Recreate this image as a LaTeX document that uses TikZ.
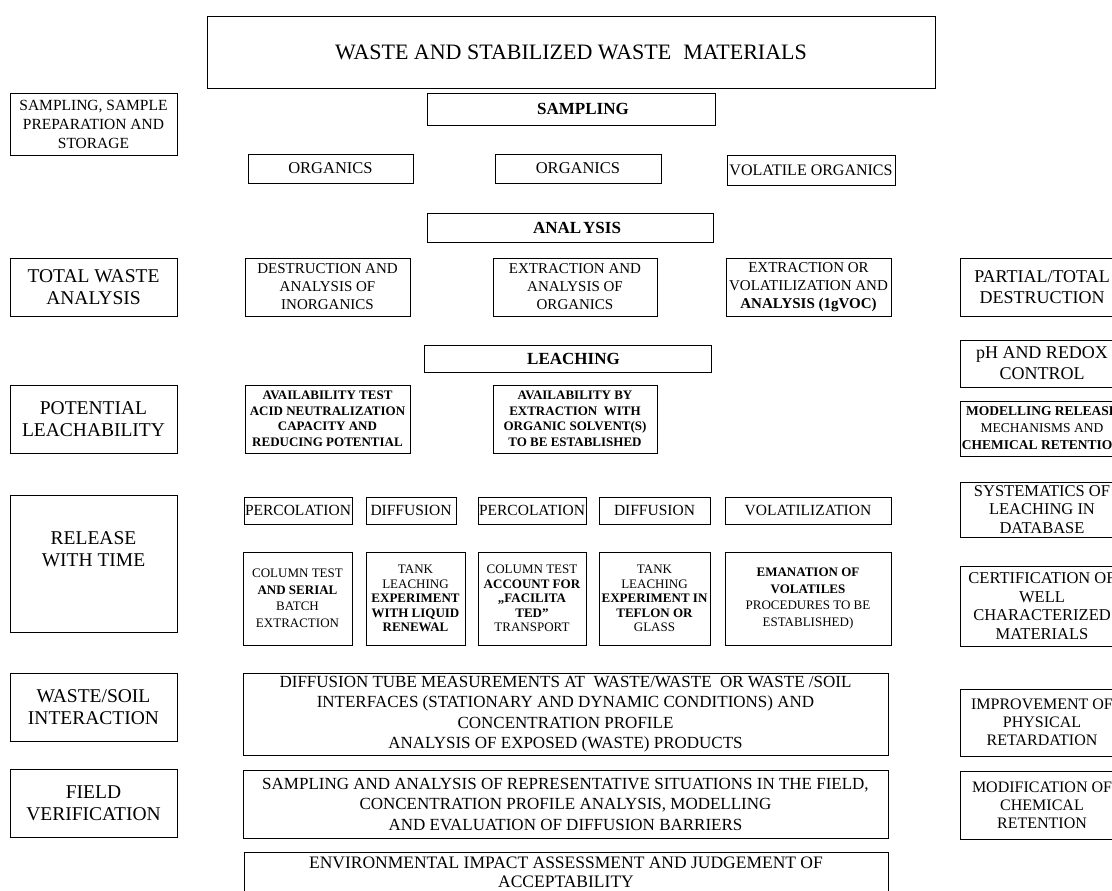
\documentclass[tikz,border=0pt]{standalone}
\usepackage{fontspec}
\setmainfont{Liberation Serif}

% box placed by its corners (x1,y1) (x2,y2), y measured downwards
\newcommand{\boxat}[7]{%
  \node[box,#6,minimum width={(#4-#2)*1pt},minimum height={(#5-#3)*1pt}]
    (#1) at ({(#2+#4)/2},{(#3+#5)/2}) {#7};}

\tikzset{
  box/.style={draw, line width=0.9pt, inner sep=0pt, outer sep=0pt, align=center},
  ttl/.style={font=\fontsize{22}{26}\selectfont},
  lab/.style={font=\fontsize{19.5}{22}\selectfont},
  labs/.style={font=\fontsize{15.5}{19}\selectfont},
  head/.style={font=\bfseries\fontsize{17}{20}\selectfont},
  org/.style={font=\fontsize{16.5}{20}\selectfont},
  vol/.style={font=\fontsize{16}{20}\selectfont},
  mid/.style={font=\fontsize{15}{18}\selectfont},
  avail/.style={font=\bfseries\fontsize{13}{15.5}\selectfont},
  perc/.style={font=\fontsize{15.5}{18}\selectfont},
  tiny4/.style={font=\fontsize{13}{16.5}\selectfont},
  tiny5/.style={font=\fontsize{13}{14.5}\selectfont},
  wide/.style={font=\fontsize{17}{20.5}\selectfont},
  envf/.style={font=\fontsize{17.5}{19}\selectfont},
  rbig/.style={font=\fontsize{18}{21}\selectfont},
  rmid/.style={font=\fontsize{16.5}{18.5}\selectfont},
  rsml/.style={font=\fontsize{13.5}{17}\selectfont},
  rlow/.style={font=\fontsize{16}{18}\selectfont},
}

\begin{document}
\begin{tikzpicture}[x=1pt,y=-1pt]
\useasboundingbox (0,0) rectangle (1112,891);
\fill[white] (0,0) rectangle (1112,891);
\clip (0,0) rectangle (1112,891);

% title
\boxat{title}{207}{16}{935}{88}{ttl}{WASTE AND STABILIZED WASTE\hspace{0.3em} MATERIALS}

% left column: stages
\boxat{sspl}{10}{93}{177}{155}{labs}{SAMPLING, SAMPLE\\PREPARATION AND\\STORAGE}
\boxat{twa}{10}{258}{177}{316}{lab}{TOTAL WASTE\\ANALYSIS}
\boxat{pot}{10}{385}{177}{453}{lab}{POTENTIAL\\LEACHABILITY}
\boxat{rwt}{10}{495}{177}{632}{lab}{RELEASE\\WITH TIME\\ \strut}
\boxat{wsi}{10}{673}{177}{741}{lab}{WASTE/SOIL\\INTERACTION}
\boxat{fv}{10}{769}{177}{837}{lab}{FIELD\\VERIFICATION}

% sampling
\boxat{hsamp}{427}{93}{715}{125}{head}{\hspace{24pt}SAMPLING}
\boxat{org1}{248}{154}{413}{183}{org}{ORGANICS}
\boxat{org2}{495}{154}{661}{183}{org}{ORGANICS}
\boxat{vorg}{727}{155}{895}{185}{vol}{VOLATILE ORGANICS}

% analysis
\boxat{hanal}{427}{213}{713}{242}{head}{\hspace{14pt}ANAL\hspace{2pt}YSIS}
\boxat{dest}{245}{258}{410}{316}{mid}{DESTRUCTION AND\\ANALYSIS OF\\INORGANICS}
\boxat{exa}{493}{258}{657}{316}{mid}{EXTRACTION AND\\ANALYSIS OF\\ORGANICS}
\boxat{exo}{726}{258}{891}{316}{mid}{EXTRACTION OR\\VOLATILIZATION AND\\\textbf{ANALYSIS (1gVOC)}}

% leaching
\boxat{hleach}{424}{345}{711}{372}{head}{\hspace{12pt}LEACHING}
\boxat{avt}{245}{385}{410}{453}{avail}{AVAILABILITY TEST\\ACID NEUTRALIZATION\\CAPACITY AND\\REDUCING POTENTIAL}
\boxat{avb}{493}{385}{657}{453}{avail}{AVAILABILITY BY\\EXTRACTION\ \ WITH\\ORGANIC SOLVENT(S)\\TO BE ESTABLISHED}

% release with time
\boxat{perc1}{244}{497}{352}{524}{perc}{PERCOLATION}
\boxat{diff1}{366}{497}{456}{524}{perc}{DIFFUSION}
\boxat{perc2}{478}{497}{586}{524}{perc}{PERCOLATION}
\boxat{diff2}{599}{497}{710}{524}{perc}{DIFFUSION}
\boxat{volz}{725}{497}{891}{524}{perc}{VOLATILIZATION}

\boxat{col1}{243}{552}{352}{645}{tiny4}{COLUMN TEST\\\textbf{AND SERIAL}\\BATCH\\EXTRACTION}
\boxat{tank1}{366}{552}{465}{645}{tiny5}{TANK\\LEACHING\\\textbf{EXPERIMENT}\\\textbf{WITH LIQUID}\\\textbf{RENEWAL}}
\boxat{col2}{478}{552}{586}{645}{tiny5}{COLUMN TEST\\\textbf{ACCOUNT FOR}\\\textbf{„FACILITA}\\\textbf{TED”}\\TRANSPORT}
\boxat{tank2}{599}{552}{710}{645}{tiny5}{TANK\\LEACHING\\\textbf{EXPERIMENT IN}\\\textbf{TEFLON OR}\\GLASS}
\boxat{eman}{725}{552}{891}{645}{tiny4}{\textbf{EMANATION OF}\\\textbf{VOLATILES}\\PROCEDURES TO BE\\ESTABLISHED)}

% interaction, field, assessment
\boxat{dtube}{243}{673}{888}{755}{wide}{DIFFUSION TUBE MEASUREMENTS AT\ \ WASTE/WASTE\ \ OR WASTE /SOIL\\INTERFACES (STATIONARY AND DYNAMIC CONDITIONS) AND\\CONCENTRATION PROFILE\\ANALYSIS OF EXPOSED (WASTE) PRODUCTS}
\boxat{sanda}{243}{770}{888}{838}{wide}{SAMPLING AND ANALYSIS OF REPRESENTATIVE SITUATIONS IN THE FIELD,\\CONCENTRATION PROFILE ANALYSIS, MODELLING\\AND EVALUATION OF DIFFUSION BARRIERS}
\boxat{env}{244}{852}{888}{892}{envf}{ENVIRONMENTAL IMPACT ASSESSMENT AND JUDGEMENT OF\\ACCEPTABILITY}

% right column: supporting activities
\boxat{part}{960}{258}{1124}{316}{rbig}{PARTIAL/TOTAL\\DESTRUCTION}
\boxat{ph}{960}{340}{1124}{387}{rbig}{pH AND REDOX\\CONTROL}
\boxat{model}{960}{401}{1124}{456}{rsml}{\textbf{MODELLING RELEASE}\\MECHANISMS AND\\\textbf{CHEMICAL RETENTION}}
\boxat{syst}{960}{482}{1124}{537}{rmid}{SYSTEMATICS OF\\LEACHING IN\\DATABASE}
\boxat{cert}{960}{566}{1124}{646}{rmid}{CERTIFICATION OF\\WELL\\CHARACTERIZED\\MATERIALS}
\boxat{impr}{960}{689}{1124}{756}{rlow}{IMPROVEMENT OF\\PHYSICAL\\RETARDATION}
\boxat{modif}{960}{771}{1124}{839}{rlow}{MODIFICATION OF\\CHEMICAL\\RETENTION}
\end{tikzpicture}
\end{document}
